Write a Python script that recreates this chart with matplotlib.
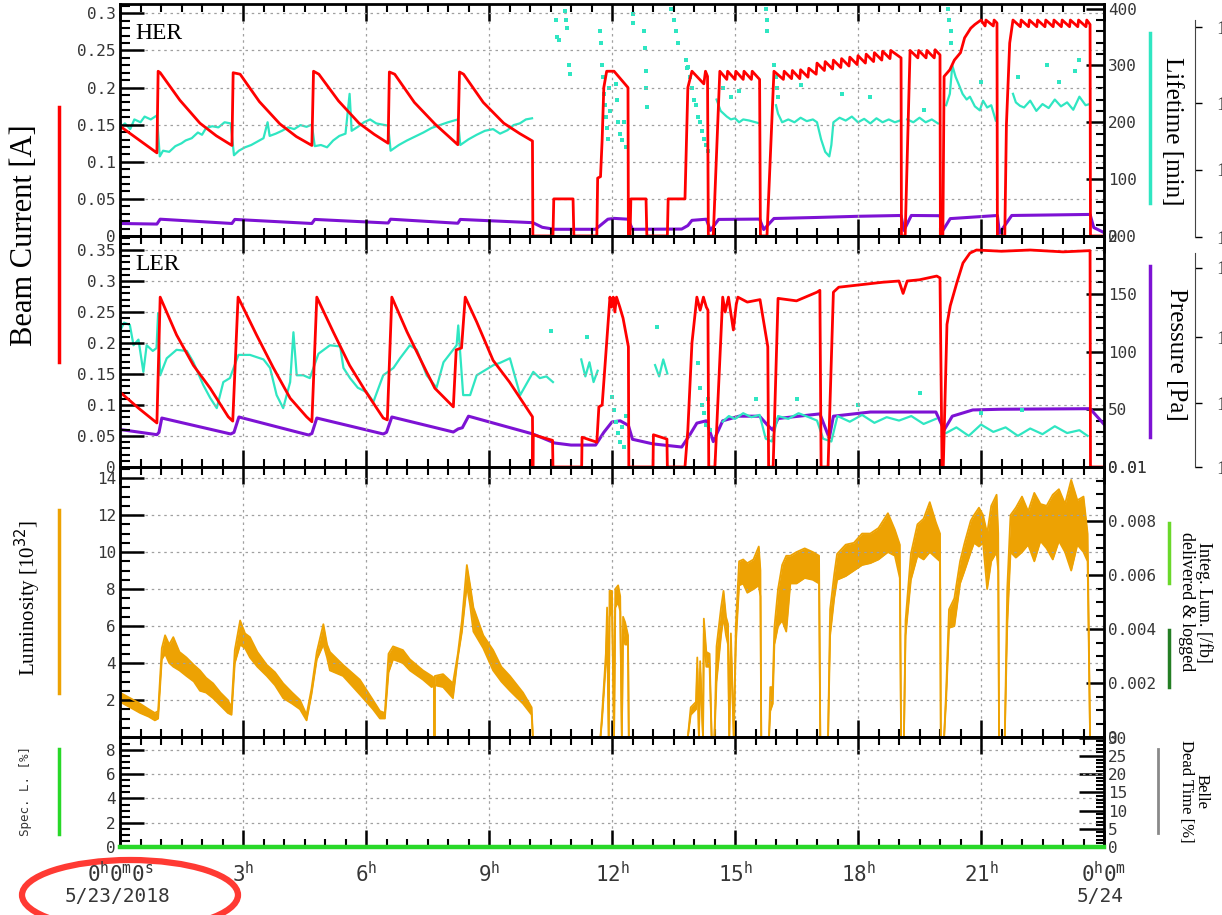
import numpy as np
import matplotlib
matplotlib.use('Agg')
from matplotlib import pyplot as plt
from matplotlib.patches import Ellipse
from matplotlib.lines import Line2D
from matplotlib.ticker import MultipleLocator, FixedLocator, FuncFormatter

nan = np.nan

# ---- HER (time in hours, current in A, lifetime in min, pressure in Pa) ----
her_current = [
    (0.00, 0.148), (0.45, 0.130), (0.90, 0.112), (0.93, 0.222), (0.98, 0.220), (1.46, 0.183),
    (1.95, 0.152), (2.35, 0.135), (2.73, 0.122),
    (2.76, 0.220), (2.93, 0.218), (3.40, 0.181), (3.90, 0.151), (4.30, 0.134), (4.68, 0.122),
    (4.72, 0.222), (4.85, 0.218), (5.33, 0.182), (5.83, 0.152), (6.20, 0.137), (6.54, 0.125),
    (6.57, 0.221), (6.70, 0.218), (7.18, 0.180), (7.68, 0.151), (8.00, 0.135), (8.24, 0.123),
    (8.28, 0.221), (8.38, 0.218), (8.86, 0.180), (9.36, 0.152), (9.75, 0.138), (10.06, 0.128),
    (10.07, 0.0), (10.56, 0.0), (10.58, 0.050), (11.05, 0.050), (11.07, 0.0), (11.63, 0.0),
    (11.65, 0.078), (11.72, 0.080), (11.76, 0.130), (11.80, 0.200), (11.87, 0.222), (12.05, 0.222),
    (12.39, 0.200), (12.40, 0.0),
    (12.44, 0.0), (12.46, 0.050), (12.83, 0.050), (12.85, 0.0), (13.35, 0.0), (13.37, 0.050),
    (13.78, 0.050), (13.85, 0.200), (13.95, 0.222), (14.24, 0.205), (14.28, 0.222), (14.33, 0.215),
    (14.35, 0.0), (14.47, 0.0),
    (14.63, 0.222), (14.80, 0.211), (14.82, 0.222), (15.00, 0.211), (15.02, 0.222), (15.20, 0.211),
    (15.22, 0.222), (15.40, 0.211), (15.42, 0.222), (15.60, 0.211), (15.62, 0.0), (15.78, 0.0),
    (15.95, 0.222), (16.18, 0.211), (16.20, 0.222), (16.38, 0.212), (16.40, 0.223), (16.58, 0.212),
    (16.60, 0.224), (16.78, 0.214), (16.80, 0.226), (16.98, 0.218), (17.00, 0.233), (17.18, 0.223),
    (17.20, 0.235), (17.38, 0.225), (17.40, 0.237), (17.58, 0.227), (17.60, 0.239), (17.78, 0.229),
    (17.80, 0.241), (17.98, 0.231), (18.00, 0.243), (18.18, 0.233), (18.20, 0.245), (18.38, 0.235),
    (18.40, 0.247), (18.58, 0.237), (18.60, 0.249), (18.78, 0.239), (18.80, 0.250), (19.05, 0.240),
    (19.06, 0.0), (19.15, 0.0),
    (19.27, 0.250), (19.46, 0.240), (19.48, 0.250), (19.66, 0.240), (19.68, 0.250), (19.86, 0.240),
    (19.88, 0.251), (20.00, 0.244), (20.01, 0.0), (20.07, 0.0),
    (20.10, 0.215), (20.24, 0.224), (20.35, 0.237), (20.50, 0.247), (20.60, 0.267), (20.75, 0.280),
    (20.85, 0.285), (21.00, 0.291), (21.10, 0.283), (21.12, 0.291), (21.30, 0.283), (21.32, 0.291),
    (21.39, 0.287), (21.40, 0.0), (21.58, 0.0),
    (21.62, 0.150), (21.70, 0.260), (21.78, 0.291), (21.96, 0.282), (21.98, 0.291), (22.16, 0.282),
    (22.18, 0.291), (22.36, 0.282), (22.38, 0.291), (22.56, 0.282), (22.58, 0.291), (22.76, 0.282),
    (22.78, 0.291), (22.96, 0.282), (22.98, 0.291), (23.16, 0.282), (23.18, 0.291), (23.36, 0.282),
    (23.38, 0.291), (23.56, 0.282), (23.58, 0.291), (23.66, 0.285), (23.67, 0.0), (24.00, 0.0),
]

her_lifetime = [
    (0.00, 191), (0.12, 198), (0.25, 188), (0.35, 205), (0.50, 200), (0.60, 210), (0.75, 205), (0.90, 212),
    (0.97, 140), (1.05, 150), (1.20, 148), (1.35, 158), (1.50, 163), (1.60, 168), (1.75, 172), (1.90, 182),
    (2.00, 178), (2.10, 190), (2.25, 193), (2.40, 191), (2.55, 200), (2.70, 198),
    (2.78, 142), (2.90, 150), (3.05, 156), (3.20, 160), (3.35, 166), (3.50, 172), (3.60, 200), (3.65, 176),
    (3.80, 180), (3.95, 185), (4.10, 191), (4.25, 188), (4.40, 195), (4.55, 192), (4.68, 196),
    (4.75, 158), (4.90, 160), (5.05, 156), (5.20, 168), (5.35, 176), (5.50, 180), (5.60, 250), (5.65, 185),
    (5.80, 192), (5.95, 200), (6.10, 205), (6.25, 198), (6.40, 196), (6.54, 194),
    (6.60, 150), (6.80, 160), (7.00, 168), (7.20, 175), (7.40, 182), (7.60, 190), (7.80, 195), (8.00, 200),
    (8.24, 205),
    (8.30, 160), (8.50, 170), (8.70, 178), (8.90, 185), (9.10, 188), (9.27, 180), (9.45, 186), (9.60, 195),
    (9.75, 198), (9.90, 205), (10.05, 207), (10.06, nan),
    (14.55, 240), (14.65, 220), (14.80, 210), (14.90, 205), (15.00, 207), (15.10, 200), (15.20, 205),
    (15.35, 203), (15.50, 200), (15.60, 198), (15.62, nan),
    (16.00, 230), (16.05, 215), (16.15, 200), (16.30, 205), (16.45, 200), (16.60, 208), (16.75, 202),
    (16.90, 205), (17.00, 200), (17.10, 170), (17.20, 148), (17.30, 140), (17.35, 160), (17.40, 200),
    (17.55, 208), (17.70, 203), (17.85, 210), (18.00, 200), (18.15, 206), (18.30, 198), (18.45, 207),
    (18.60, 200), (18.75, 205), (18.90, 200), (19.02, 203), (19.05, nan),
    (19.20, 205), (19.35, 200), (19.50, 208), (19.65, 200), (19.80, 205), (19.95, 198), (20.00, nan),
    (20.15, 230), (20.24, 250), (20.30, 300), (20.38, 280), (20.45, 268), (20.55, 250), (20.65, 240),
    (20.73, 245), (20.85, 228), (20.97, 221), (21.05, 238), (21.15, 226), (21.25, 230), (21.36, 203),
    (21.40, nan),
    (21.78, 250), (21.85, 235), (21.95, 229), (22.05, 226), (22.20, 238), (22.35, 220), (22.50, 232),
    (22.65, 225), (22.80, 240), (22.95, 228), (23.10, 235), (23.25, 222), (23.40, 245), (23.55, 230),
    (23.65, 232),
]

her_lifetime_dots = [
    (10.63, 380), (10.65, 350), (10.70, 345), (10.85, 395), (10.88, 380), (10.90, 365), (10.95, 300),
    (10.97, 285), (11.70, 360), (11.72, 340), (11.75, 300), (11.77, 280), (11.80, 250), (11.82, 230),
    (11.85, 210), (11.88, 190), (11.90, 170), (11.93, 260), (11.95, 220), (12.10, 268), (12.12, 240),
    (12.15, 200), (12.20, 180), (12.25, 168), (12.30, 200), (12.35, 156), (12.50, 390), (12.52, 375),
    (12.78, 360), (12.80, 330), (12.82, 290), (12.84, 260), (12.86, 227), (13.45, 400), (13.50, 380),
    (13.55, 360), (13.60, 340), (13.80, 310), (13.82, 295), (13.85, 297), (13.90, 280), (13.95, 260),
    (14.00, 240), (14.05, 230), (14.10, 210), (14.15, 200), (14.20, 185), (14.25, 170), (14.30, 160),
    (14.35, 150), (14.70, 260), (14.90, 245), (15.10, 255), (15.75, 400), (15.77, 380), (15.79, 360),
    (15.95, 300), (16.00, 280), (16.02, 260), (16.05, 245), (16.60, 265), (17.60, 250), (18.30, 245),
    (19.60, 222), (20.20, 400), (20.22, 380), (20.26, 360), (20.28, 340), (21.00, 270), (21.90, 280),
    (22.60, 300), (22.90, 270), (23.30, 290), (23.40, 310),
]

her_pressure = [
    (0.00, 10.8), (0.90, 10.3), (0.98, 14.5), (2.73, 10.8), (2.80, 14.3), (4.68, 10.8), (4.75, 14.3),
    (6.54, 11.2), (6.60, 14.5), (8.24, 11.0), (8.30, 14.3), (10.07, 11.5), (10.30, 7.5), (10.60, 5.8),
    (11.60, 5.8), (11.90, 14.5), (12.05, 15.2), (12.39, 14.5), (12.50, 5.8), (13.70, 6.0), (13.85, 9.0),
    (13.95, 13.5), (14.30, 14.5), (14.40, 4.8), (14.60, 14.3), (15.60, 14.6), (15.70, 5.6), (15.95, 15.1),
    (17.00, 16.0), (18.00, 17.0), (19.05, 17.7), (19.12, 4.8), (19.30, 17.7), (20.00, 17.5), (20.07, 4.8),
    (20.25, 15.0), (21.40, 17.7), (21.45, 2.5), (21.75, 17.7), (23.66, 18.6), (23.75, 7.3), (24.00, 3.0),
]

# ---- LER ----
ler_current = [
    (0.00, 0.121), (0.45, 0.095), (0.90, 0.071), (0.98, 0.274), (1.38, 0.213), (1.79, 0.164),
    (2.20, 0.127), (2.64, 0.081), (2.75, 0.074),
    (2.88, 0.274), (3.33, 0.213), (3.74, 0.160), (4.15, 0.111), (4.55, 0.081), (4.68, 0.073),
    (4.80, 0.274), (5.20, 0.218), (5.60, 0.164), (6.00, 0.121), (6.42, 0.079), (6.52, 0.076),
    (6.63, 0.274), (7.00, 0.218), (7.48, 0.153), (7.68, 0.127), (8.13, 0.097), (8.20, 0.189),
    (8.33, 0.192), (8.42, 0.274),
    (8.70, 0.234), (9.10, 0.172), (9.50, 0.137), (9.92, 0.095), (10.06, 0.081),
    (10.07, 0.0), (10.08, 0.052), (10.55, 0.043), (10.56, 0.0), (11.26, 0.0), (11.27, 0.048),
    (11.63, 0.040), (11.68, 0.097), (11.76, 0.100), (11.95, 0.274), (11.99, 0.258), (12.03, 0.274),
    (12.07, 0.250), (12.11, 0.274), (12.19, 0.258), (12.27, 0.240), (12.40, 0.194), (12.41, 0.0),
    (13.00, 0.0), (13.01, 0.052), (13.34, 0.045), (13.35, 0.0), (13.78, 0.0), (13.85, 0.060),
    (13.95, 0.200), (14.07, 0.274), (14.15, 0.253), (14.23, 0.274), (14.30, 0.258), (14.34, 0.253),
    (14.36, 0.0), (14.51, 0.0), (14.70, 0.274), (14.76, 0.250), (14.84, 0.274), (14.96, 0.221),
    (15.03, 0.262), (15.07, 0.274), (15.30, 0.266), (15.61, 0.270), (15.80, 0.194), (15.82, 0.0),
    (15.93, 0.0), (16.05, 0.272), (16.50, 0.268), (17.00, 0.282), (17.07, 0.285), (17.10, 0.0),
    (17.27, 0.0), (17.40, 0.282), (17.53, 0.290), (18.20, 0.295), (18.60, 0.298), (19.00, 0.300),
    (19.10, 0.280), (19.20, 0.300), (19.50, 0.302), (19.92, 0.308), (20.00, 0.305), (20.05, 0.0),
    (20.08, 0.0), (20.17, 0.230), (20.25, 0.260), (20.41, 0.297), (20.56, 0.329), (20.73, 0.345),
    (20.89, 0.350), (21.50, 0.348), (22.20, 0.350), (23.00, 0.347), (23.66, 0.349), (23.67, 0.0),
    (24.00, 0.0),
]

ler_pressure = [
    (0.00, 32.5), (0.90, 28.0), (0.95, 30.0), (1.02, 42.4), (2.70, 28.6), (2.78, 30.0), (2.90, 43.3),
    (4.60, 27.7), (4.68, 29.0), (4.80, 42.4), (6.42, 28.6), (6.50, 30.0), (6.63, 43.3), (8.13, 30.3),
    (8.25, 33.0), (8.35, 34.0), (8.50, 44.0), (10.07, 28.6), (10.60, 20.8), (11.00, 19.0), (11.60, 19.0),
    (11.80, 30.0), (12.00, 39.0), (12.20, 40.0), (12.40, 36.0), (12.50, 24.0), (13.00, 20.0),
    (13.70, 17.3), (13.90, 28.0), (14.07, 38.0), (14.30, 40.0), (14.47, 22.0), (14.70, 40.0),
    (15.10, 44.0), (15.60, 44.0), (15.80, 36.0), (15.92, 32.0), (16.05, 42.0), (17.07, 46.0),
    (17.30, 25.0), (17.40, 44.0), (18.30, 47.6), (19.90, 47.6), (20.10, 32.0), (20.30, 44.0),
    (20.80, 49.4), (21.46, 50.0), (23.66, 50.5), (24.00, 37.0),
]

ler_lifetime = [
    (0.00, 240), (0.10, 255), (0.24, 251), (0.33, 215), (0.45, 225), (0.57, 168), (0.65, 215),
    (0.80, 205), (0.89, 210), (0.93, 272), (0.98, 162), (1.14, 192), (1.38, 207), (1.63, 205),
    (1.79, 185), (2.03, 145), (2.20, 122), (2.36, 104), (2.52, 150), (2.68, 157),
    (2.89, 198), (3.17, 198), (3.50, 190), (3.66, 175), (3.82, 127), (3.98, 104), (4.15, 150),
    (4.23, 238), (4.31, 162), (4.47, 162), (4.63, 157),
    (4.84, 200), (5.12, 215), (5.37, 213), (5.45, 175), (5.61, 157), (5.80, 140), (6.02, 132),
    (6.18, 115), (6.42, 162),
    (6.67, 175), (6.83, 192), (7.07, 215), (7.24, 207), (7.48, 162), (7.72, 140), (7.89, 185),
    (8.21, 215), (8.25, 250), (8.37, 127), (8.54, 127), (8.70, 162), (9.11, 180), (9.27, 184),
    (9.51, 192), (9.76, 127), (10.08, 168), (10.24, 157), (10.40, 160), (10.56, 150), (10.57, nan),
    (11.25, 190), (11.35, 160), (11.45, 185), (11.55, 150), (11.65, 170), (11.70, nan),
    (13.05, 180), (13.15, 160), (13.25, 190), (13.35, 165), (13.40, nan),
    (14.70, 80), (14.85, 90), (15.00, 85), (15.20, 95), (15.40, 88), (15.60, 92), (15.75, 50),
    (15.90, 45), (16.05, 90), (16.30, 85), (16.55, 95), (16.80, 88), (17.00, 82), (17.15, 50),
    (17.35, 45), (17.50, 90), (17.80, 80), (18.10, 92), (18.40, 78), (18.70, 88), (19.00, 82),
    (19.30, 90), (19.60, 76), (19.90, 85), (20.00, nan),
    (20.15, 60), (20.40, 70), (20.70, 55), (21.00, 75), (21.30, 62), (21.60, 70), (21.90, 55),
    (22.20, 68), (22.50, 58), (22.80, 72), (23.10, 60), (23.40, 65), (23.60, 55),
]

ler_lifetime_dots = [
    (10.50, 240), (11.40, 230), (12.00, 124), (12.05, 100), (12.10, 80), (12.15, 60), (12.20, 45),
    (12.25, 70), (12.30, 35), (12.35, 90), (13.10, 247), (14.10, 184), (14.15, 140), (14.20, 110),
    (14.25, 95), (14.30, 75), (14.35, 120), (14.40, 65), (15.50, 120), (16.50, 120), (18.00, 110),
    (19.50, 130), (21.00, 95), (22.00, 100),
]

# ---- luminosity (1e32), lower and upper edge of the noisy trace ----
lum_t = [0.00, 0.25, 0.49, 0.70, 0.85, 0.93, 1.02, 1.10, 1.20, 1.30, 1.45, 1.62, 1.80, 1.95, 2.10,
         2.27, 2.45, 2.63, 2.72, 2.80, 2.93, 3.05, 3.17, 3.35, 3.58, 3.78, 3.98, 4.20, 4.39, 4.55,
         4.67, 4.80, 4.96, 5.05, 5.12, 5.44, 5.85, 6.17, 6.34, 6.46, 6.55, 6.66, 6.90, 7.07, 7.39,
         7.60, 7.66, 7.67, 7.68, 7.88, 8.12, 8.24, 8.34, 8.46, 8.54, 8.62, 8.86, 9.10, 9.30, 9.51,
         9.83, 10.04, 10.07, 11.72, 11.76, 11.85, 11.88, 11.92, 11.94, 12.00, 12.05, 12.08, 12.15,
         12.20, 12.24, 12.27, 12.32, 12.39, 12.41, 13.85, 13.92, 14.05, 14.08, 14.12, 14.15, 14.22,
         14.24, 14.30, 14.38, 14.43, 14.50, 14.55, 14.66, 14.72, 14.78, 14.83, 14.86, 14.90, 14.97,
         15.02, 15.10, 15.20, 15.30, 15.45, 15.58, 15.62, 15.64, 15.83, 15.86, 15.92, 15.96, 16.05,
         16.15, 16.25, 16.35, 16.50, 16.70, 16.90, 17.05, 17.08, 17.27, 17.32, 17.42, 17.49, 17.70,
         17.90, 18.10, 18.30, 18.50, 18.73, 18.90, 19.02, 19.05, 19.12, 19.16, 19.29, 19.45, 19.60,
         19.75, 19.90, 20.00, 20.02, 20.10, 20.15, 20.22, 20.35, 20.49, 20.60, 20.75, 20.83, 20.95,
         21.05, 21.15, 21.25, 21.38, 21.42, 21.44, 21.58, 21.64, 21.72, 21.85, 22.00, 22.15, 22.30,
         22.45, 22.60, 22.75, 22.90, 23.05, 23.20, 23.35, 23.50, 23.60, 23.66, 24.00]
lum_lo = [1.9, 1.6, 1.3, 1.1, 0.9, 1.0, 4.2, 4.5, 4.0, 3.8, 3.6, 3.3, 3.0, 2.5, 2.4,
          2.1, 1.7, 1.3, 1.2, 4.0, 5.0, 4.8, 4.3, 3.8, 3.3, 2.8, 2.1, 1.8, 1.5, 0.9,
          2.3, 4.2, 5.0, 4.3, 3.6, 3.3, 2.3, 1.5, 1.0, 1.0, 3.5, 4.2, 4.0, 3.6, 3.1,
          2.7, 2.8, 0.0, 2.8, 2.7, 2.1, 4.3, 5.7, 8.2, 7.1, 5.7, 4.8, 3.6, 3.0, 2.5,
          1.8, 1.2, 0.0, 0.0, 1.0, 4.0, 5.9, 0.0, 6.5, 7.0, 0.0, 7.0, 7.3,
          6.8, 0.0, 5.8, 5.0, 5.0, 0.0, 0.0, 1.2, 1.5, 3.7, 0.0, 3.5, 0.0,
          5.6, 3.8, 3.8, 0.0, 0.0, 3.0, 5.5, 6.5, 5.5, 5.0, 0.0, 4.8, 0.0,
          5.0, 8.2, 8.3, 7.8, 8.0, 8.2, 7.6, 0.0, 0.0, 1.4, 1.8, 5.0, 6.0,
          6.3, 5.7, 8.3, 8.3, 8.6, 8.5, 8.3, 0.0, 0.0, 5.5, 7.5, 8.5, 8.7,
          9.0, 9.3, 9.4, 9.6, 10.0, 9.8, 8.6, 0.0, 0.0, 5.5, 8.5, 9.8, 9.6,
          10.0, 9.7, 9.5, 0.0, 0.0, 2.0, 5.9, 6.0, 8.3, 9.0, 10.0, 10.5, 10.3,
          10.5, 8.0, 9.5, 10.0, 9.0, 0.0, 0.0, 6.0, 10.0, 9.7, 10.0, 10.4, 9.5,
          10.6, 10.2, 9.6, 10.6, 10.0, 9.0, 10.4, 10.0, 9.5, 0.0, 0.0]
lum_hi = [2.4, 2.1, 1.8, 1.5, 1.3, 1.4, 4.8, 5.5, 5.0, 5.4, 4.6, 4.3, 3.9, 3.6, 3.2,
          2.9, 2.4, 2.0, 1.6, 4.7, 6.3, 5.6, 5.4, 4.6, 3.9, 3.5, 2.9, 2.4, 2.0, 1.2,
          2.6, 4.6, 6.1, 5.0, 4.6, 3.9, 3.1, 2.0, 1.4, 1.3, 4.5, 4.9, 4.7, 4.2, 3.6,
          3.3, 3.2, 0.0, 3.3, 3.4, 2.9, 4.5, 6.3, 9.3, 8.2, 7.0, 5.5, 4.7, 3.8, 3.3,
          2.4, 1.6, 0.0, 0.0, 1.3, 4.5, 7.0, 0.0, 7.9, 7.9, 0.0, 8.0, 8.2,
          7.6, 0.0, 6.5, 6.2, 5.5, 0.0, 0.0, 1.6, 1.9, 4.3, 0.0, 4.1, 0.0,
          6.4, 4.6, 4.5, 0.0, 0.0, 4.9, 7.0, 7.9, 6.5, 6.1, 0.0, 5.6, 0.0,
          6.0, 9.5, 9.6, 9.4, 9.6, 10.3, 9.0, 0.0, 0.0, 2.7, 2.7, 5.9, 8.0,
          9.3, 9.8, 9.8, 10.0, 10.2, 10.0, 9.8, 0.0, 0.0, 6.9, 8.8, 9.9, 10.4,
          10.5, 11.0, 11.0, 11.3, 12.1, 11.2, 10.4, 0.0, 0.0, 6.3, 9.9, 11.5, 11.8,
          12.7, 11.6, 11.0, 0.0, 0.0, 2.5, 6.9, 7.5, 9.5, 10.5, 11.7, 12.0, 12.4,
          12.0, 11.0, 12.5, 13.1, 11.0, 0.0, 0.0, 8.0, 12.0, 12.4, 13.0, 12.2, 13.2,
          12.6, 12.5, 13.1, 13.4, 12.6, 13.9, 12.8, 13.0, 11.0, 0.0, 0.0]

# ---- special luminosity [%] ----
spec_t = [0.0, 24.0]
spec_v = [0.0, 0.0]

RED = '#ff0000'
CYAN = '#2fe6c2'
PURPLE = '#7d12d4'
ORANGE = '#eda203'
GREEN = '#28d828'
TICK_COLOR = '#363636'
SERIF = 'Liberation Serif'

plt.rcParams['font.family'] = ['DejaVu Sans Mono']
plt.rcParams['mathtext.fontset'] = 'dejavusans'

W, H = 1222, 915
fig = plt.figure(figsize=(W / 100, H / 100), dpi=100)
fig.patch.set_facecolor('white')


def unzip(pairs):
    a = np.array(pairs, dtype=float)
    return a[:, 0], a[:, 1]


def px_axes(x0, y0, x1, y1):
    return fig.add_axes([x0 / W, 1 - y1 / H, (x1 - x0) / W, (y1 - y0) / H])


def fmt_num(v, pos=None):
    return ('%g' % v)


def frame(ax, ylim, major, minor):
    ax.set_xlim(0, 24)
    ax.set_ylim(*ylim)
    ax.xaxis.set_major_locator(MultipleLocator(3))
    ax.xaxis.set_minor_locator(MultipleLocator(0.5))
    ax.yaxis.set_major_locator(FixedLocator(major))
    ax.yaxis.set_minor_locator(MultipleLocator(minor))
    ax.yaxis.set_major_formatter(FuncFormatter(fmt_num))
    ax.tick_params(axis='x', which='both', direction='in', top=True, bottom=True, labelbottom=False)
    ax.tick_params(axis='x', which='major', length=12, width=1.8)
    ax.tick_params(axis='x', which='minor', length=6, width=1.5)
    ax.tick_params(axis='y', which='both', direction='in', left=True, right=False,
                   labelcolor=TICK_COLOR, labelsize=11.5, pad=3)
    ax.tick_params(axis='y', which='major', length=17, width=1.8)
    ax.tick_params(axis='y', which='minor', length=7, width=1.5)
    for s in ax.spines.values():
        s.set_linewidth(2)
    ax.grid(True, which='major', color='#a0a0a0', linestyle=(0, (2, 3)), linewidth=0.9)
    ax.patch.set_visible(False)
    ax.set_zorder(3)


def right_axis(ax, ylim, major, minor, labels=None):
    tw = ax.twinx()
    tw.set_ylim(*ylim)
    tw.yaxis.set_major_locator(FixedLocator(major))
    tw.yaxis.set_minor_locator(MultipleLocator(minor))
    if labels is None:
        tw.yaxis.set_major_formatter(FuncFormatter(fmt_num))
    else:
        tw.set_yticklabels(labels)
    tw.tick_params(axis='y', which='both', direction='in', labelcolor=TICK_COLOR, labelsize=11.5, pad=3)
    tw.tick_params(axis='y', which='major', length=13, width=1.8)
    tw.tick_params(axis='y', which='minor', length=6, width=1.5)
    for s in tw.spines.values():
        s.set_visible(False)
    tw.patch.set_visible(False)
    tw.set_zorder(1)
    return tw


def hidden_axis(ax, ylim):
    hd = ax.twinx()
    hd.set_ylim(*ylim)
    hd.axis('off')
    hd.set_zorder(2)
    return hd


# ---------------- HER ----------------
ax_her = px_axes(120, 4, 1104, 236)
frame(ax_her, (0, 0.3126), [0, 0.05, 0.1, 0.15, 0.2, 0.25, 0.3], 0.01)
her_life_ax = right_axis(ax_her, (0, 408), [0, 100, 200, 300, 400], 20)
her_p_ax = hidden_axis(ax_her, (0.01, 200))

t, v = unzip(her_lifetime)
her_life_ax.plot(t, v, color=CYAN, lw=1.6)
t, v = unzip(her_lifetime_dots)
her_life_ax.scatter(t, v, color=CYAN, s=5, marker='s', linewidths=0)
t, v = unzip(her_pressure)
her_p_ax.plot(t, v, color=PURPLE, lw=2.2)
t, v = unzip(her_current)
ax_her.plot(t, v, color=RED, lw=2.0)
ax_her.text(0.016, 0.92, 'HER', transform=ax_her.transAxes, fontsize=17, family=SERIF, va='top')

# ---------------- LER ----------------
ax_ler = px_axes(120, 236, 1104, 467)
frame(ax_ler, (0, 0.3726), [0, 0.05, 0.1, 0.15, 0.2, 0.25, 0.3, 0.35], 0.01)
ler_p_ax = right_axis(ax_ler, (0.01, 200), [0.01, 50, 100, 150, 200], 10)
ler_life_ax = hidden_axis(ax_ler, (0, 408))

t, v = unzip(ler_lifetime)
ler_life_ax.plot(t, v, color=CYAN, lw=1.6)
t, v = unzip(ler_lifetime_dots)
ler_life_ax.scatter(t, v, color=CYAN, s=5, marker='s', linewidths=0)
t, v = unzip(ler_pressure)
ler_p_ax.plot(t, v, color=PURPLE, lw=2.2)
t, v = unzip(ler_current)
ax_ler.plot(t, v, color=RED, lw=2.0)
ax_ler.text(0.016, 0.92, 'LER', transform=ax_ler.transAxes, fontsize=17, family=SERIF, va='top')

# ---------------- luminosity ----------------
ax_lum = px_axes(120, 467, 1104, 737)
frame(ax_lum, (0, 14.6), [2, 4, 6, 8, 10, 12, 14], 0.5)
lum_r = right_axis(ax_lum, (0, 0.01), [0, 0.002, 0.004, 0.006, 0.008, 0.01], 0.0005)
ax_lum.fill_between(lum_t, lum_lo, lum_hi, color=ORANGE, lw=0)
ax_lum.plot(lum_t, lum_lo, color=ORANGE, lw=1.3)
ax_lum.plot(lum_t, lum_hi, color=ORANGE, lw=1.3)

# ---------------- special luminosity / dead time ----------------
ax_spec = px_axes(120, 737, 1104, 847)
frame(ax_spec, (0, 9.07), [0, 2, 4, 6, 8], 0.5)
spec_r = right_axis(ax_spec, (0, 30.2), [0, 5, 10, 15, 20, 25, 30], 1)
spec_r.tick_params(axis='y', which='major', length=18)
ax_spec.plot(spec_t, spec_v, color=GREEN, lw=3.2, clip_on=False, zorder=5)

hour_labels = [r'$\mathtt{0}^{\mathtt{h}}\mathtt{0}^{\mathtt{m}}\mathtt{0}^{\mathtt{s}}$'] + \
    [r'$\mathtt{%d}^{\mathtt{h}}$' % h for h in range(3, 24, 3)] + \
    [r'$\mathtt{0}^{\mathtt{h}}\mathtt{0}^{\mathtt{m}}$']
ax_spec.set_xticks(range(0, 25, 3))
ax_spec.set_xticklabels(hour_labels)
ax_spec.tick_params(axis='x', labelbottom=True, labelsize=15, labelcolor=TICK_COLOR, pad=10)
fig.text(118 / W, 1 - 896 / H, '5/23/2018', ha='center', va='center', fontsize=14, color=TICK_COLOR)
fig.text(1100 / W, 1 - 896 / H, '5/24', ha='center', va='center', fontsize=14, color=TICK_COLOR)

# ---------------- far right pressure scales ----------------
for (y0, y1, ticks) in [(20, 237, [27, 103, 170, 237]), (253, 467, [268, 337, 403, 467])]:
    fa = px_axes(1185, y0, 1195, y1)
    fa.set_ylim(y1, y0)
    fa.set_xticks([])
    fa.yaxis.tick_right()
    fa.set_yticks(ticks)
    fa.set_yticklabels(['1e-05', '1e-06', '1e-07', '1e-08'])
    fa.tick_params(axis='y', direction='out', length=5, width=1.0, labelsize=14,
                   labelcolor='#333333', pad=10)
    for lab in fa.get_yticklabels():
        lab.set_fontfamily(SERIF)
    for name, s in fa.spines.items():
        s.set_visible(name == 'right')
    fa.spines['right'].set_color('#444444')
    fa.patch.set_visible(False)

# ---------------- axis titles and colour keys ----------------
def key(x, y0, y1, color, lw=2.5):
    fig.add_artist(Line2D([x / W, x / W], [1 - y0 / H, 1 - y1 / H], color=color, lw=lw))


def title(x, y, s, rot, size, family=SERIF, color='black'):
    fig.text(x / W, 1 - y / H, s, rotation=rot, ha='center', va='center', fontsize=size,
             family=family, color=color, linespacing=1.0)


title(25, 235, 'Beam Current [A]', 90, 22)
key(59, 107, 362, RED)
title(1172, 131, 'Lifetime [min]', 270, 18)
key(1150, 33, 203, CYAN)
title(1176, 354, 'Pressure [Pa]', 270, 18)
key(1150, 266, 437, PURPLE)
title(28, 598, r'Luminosity [10$^{32}$]', 90, 15)
key(59, 510, 693, ORANGE)
title(1195, 602, 'Integ. Lum. [/fb]\ndelivered & logged', 270, 13)
key(1169, 523, 583, '#6ad82a')
key(1169, 630, 687, '#247e24')
title(25, 791, 'Spec. L. [%]', 90, 9, family='DejaVu Sans Mono', color=TICK_COLOR)
key(59, 749, 834, GREEN)
title(1194, 791, 'Belle\nDead Time [%]', 270, 12)
key(1158, 749, 833, '#8a8a8a', lw=2)

fig.add_artist(Ellipse((130 / W, 1 - 895 / H), 216 / W, 70 / H, transform=fig.transFigure,
                       fill=False, edgecolor='#ff3a33', lw=4.5))

fig.savefig('out.png', dpi=100)
